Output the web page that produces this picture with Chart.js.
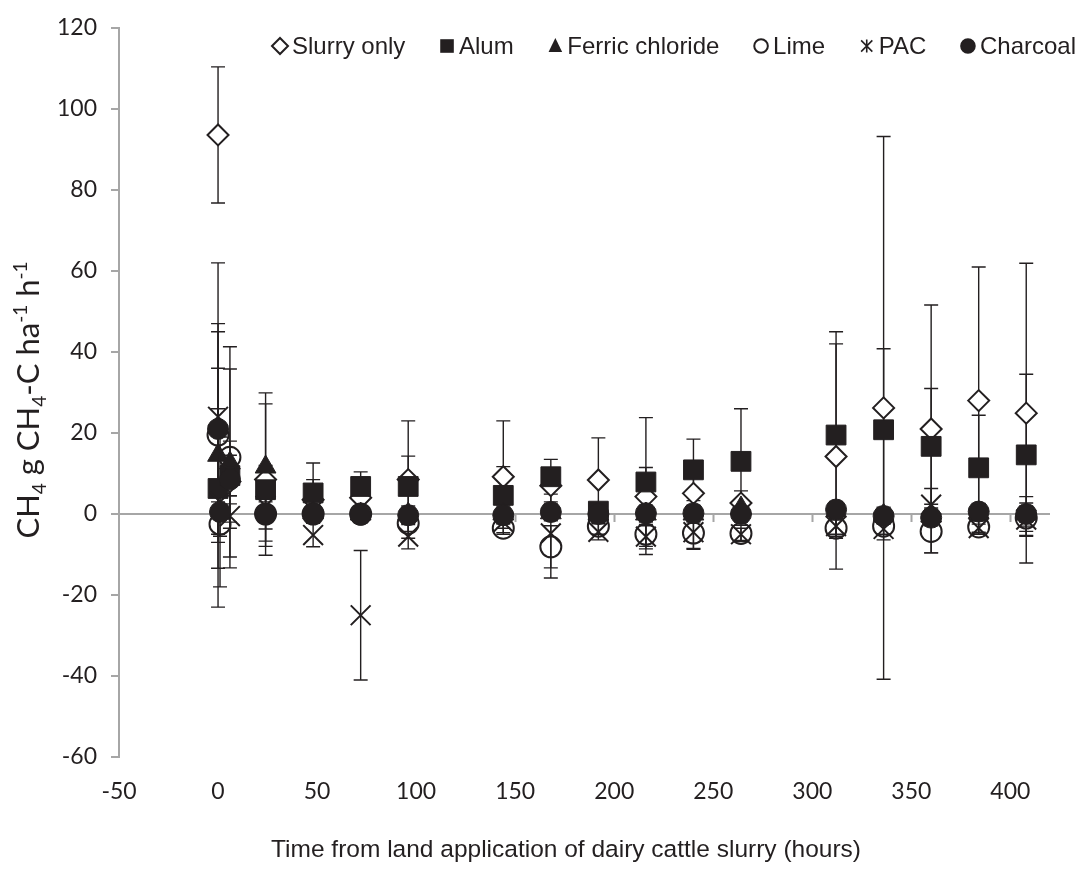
<!DOCTYPE html>
<html>
<head>
<meta charset="utf-8">
<title>CH4 flux after slurry application</title>
<script src="https://cdn.jsdelivr.net/npm/chart.js@4.4.1/dist/chart.umd.min.js"></script>
<style>
  html, body { margin: 0; padding: 0; background: #fff; }
</style>
</head>
<body>
<canvas id="chart" width="1078" height="886"></canvas>
<script>
// sampling times (hours after slurry application)
const hours = [0, 1, 6, 24, 48, 72, 96, 144, 168, 192, 216, 240, 264, 312, 336, 360, 384, 408];

// mean flux (g CH4-C ha-1 h-1) and +/- error, null = not measured
const slurryOnly    = [93.6, null, 8, 8.5, 3.5, 4, 8.5, 9.2, 7, 8.4, 4.3, 5.1, 2.7, 14.2, 26.2, 21, 28, 24.9];
const slurryOnlyErr = [16.8, null, 10, 18.7, 5, 3, 14.5, 13.8, 4, 10.4, 7.2, 4, 3, 27.8, 67, 30.6, 33, 37];
const alum          = [6.3, null, 9.5, 6, 5.2, 6.8, 6.8, 4.6, 9.2, 0.7, 7.9, 10.9, 13, 19.5, 20.8, 16.7, 11.4, 14.6];
const alumErr       = [19.7, null, 5, 3, 7.4, 3.6, 7.5, 7.1, 4.3, 2, 15.9, 7.6, 13, 25.5, 20, 14.3, 13, 19.9];
const ferric        = [14.5, null, 12.6, 11.6, 0.3, 0, 0, 0, 0.3, 0, 0, 0, 1.5, 0.8, -0.3, -0.5, 0.4, 0];
const ferricErr     = [21.5, null, 23.2, 18.3, 2, 2, 2, 2, 2, 2, 2, 2, 2, 2, 2, 2, 2, 2];
const lime          = [19.5, -2.5, 14, 0, 0, 0, -2.3, -3.5, -8.1, -3, -5, -4.7, -4.8, -3.5, -3, -4.3, -3.2, -1];
const limeErr       = [42.5, 3, 27.3, 2, 2, 2, 2, 1.5, 5.2, 2, 5, 4, 2, 2, 2, 5.3, 1.5, 2];
const pac           = [24, 3, -0.5, 2, -5.2, -25, -5.6, -2, -4.8, -4.4, -5.6, -4.5, -5, -3, -3.7, 2.3, -3.5, -1.4];
const pacErr        = [21, 3, 3, 10, 2.9, 16, 3, 1.5, 11, 2, 3, 4, 1.5, 2, 2.7, 4, 1, 4.1];
const charcoal      = [21, 0.5, 8.5, 0, 0.2, -0.2, -0.3, -0.3, 0.5, 0, 0.2, 0.2, 0, 1.1, -0.5, -0.9, 0.6, 0];
const charcoalErr   = [26, 18.5, 4, 3.7, 2, 2, 2, 2, 2, 2, 2, 2, 2, 2, 2, 2, 2, 4.3];

const yTicks = { min: -60, max: 120, step: 20 };
const xTicks = { min: -50, max: 420, step: 50 };

const ink = '#231f20';
const axisGrey = '#a6a6a6';

function toPoints(vals, errs) {
    const pts = [];
    hours.forEach((h, i) => {
        if (vals[i] !== null) pts.push({ x: h, y: vals[i], err: errs[i] });
    });
    return pts;
}

// zero line, tick marks on it, and error bars (under the markers)
const errorBars = {
    id: 'errorBars',
    beforeDatasetsDraw(chart) {
        const { ctx, chartArea, scales: { x, y } } = chart;
        ctx.save();
        const y0 = y.getPixelForValue(0);
        ctx.strokeStyle = axisGrey;
        ctx.lineWidth = 2;
        ctx.beginPath();
        ctx.moveTo(chartArea.left, y0);
        ctx.lineTo(chartArea.right, y0);
        for (let v = 0; v <= xTicks.max; v += xTicks.step) {
            const px = Math.round(x.getPixelForValue(v)) + 0.5;
            ctx.moveTo(px, y0);
            ctx.lineTo(px, y0 + 8);
        }
        ctx.stroke();

        ctx.strokeStyle = ink;
        ctx.lineWidth = 1.4;
        chart.data.datasets.forEach(ds => {
            ds.data.forEach(p => {
                if (!p.err) return;
                const px = x.getPixelForValue(p.x);
                const top = y.getPixelForValue(p.y + p.err);
                const bot = y.getPixelForValue(p.y - p.err);
                ctx.beginPath();
                ctx.moveTo(px, top); ctx.lineTo(px, bot);
                ctx.moveTo(px - 7, top); ctx.lineTo(px + 7, top);
                ctx.moveTo(px - 7, bot); ctx.lineTo(px + 7, bot);
                ctx.stroke();
            });
        });
        ctx.restore();
    }
};

function drawMarker(ctx, ds, cx, cy, s) {
    ctx.save();
    ctx.strokeStyle = ink;
    ctx.fillStyle = ds.backgroundColor;
    ctx.lineWidth = 2;
    ctx.beginPath();
    switch (ds.pointStyle) {
        case 'rectRot':
            ctx.moveTo(cx - s, cy); ctx.lineTo(cx, cy - s);
            ctx.lineTo(cx + s, cy); ctx.lineTo(cx, cy + s);
            ctx.closePath(); ctx.fill(); ctx.stroke();
            break;
        case 'rect':
            ctx.rect(cx - s * 0.85, cy - s * 0.85, s * 1.7, s * 1.7); ctx.fill();
            break;
        case 'triangle':
            ctx.moveTo(cx, cy - s); ctx.lineTo(cx + s * 0.85, cy + s * 0.75);
            ctx.lineTo(cx - s * 0.85, cy + s * 0.75); ctx.closePath(); ctx.fill();
            break;
        case 'circle':
            ctx.arc(cx, cy, s * 0.85, 0, Math.PI * 2);
            if (ds.backgroundColor !== 'transparent') ctx.fill();
            ctx.stroke();
            break;
        case 'crossRot':
            ctx.lineWidth = 1.6;
            ctx.moveTo(cx - s * 0.7, cy - s * 0.7); ctx.lineTo(cx + s * 0.7, cy + s * 0.7);
            ctx.moveTo(cx + s * 0.7, cy - s * 0.7); ctx.lineTo(cx - s * 0.7, cy + s * 0.7);
            ctx.moveTo(cx, cy - s * 0.8); ctx.lineTo(cx, cy + s * 0.8);
            ctx.stroke();
            break;
    }
    ctx.restore();
}

// legend inside the plot, axis titles with sub/superscripts
const decorations = {
    id: 'decorations',
    afterDraw(chart) {
        const { ctx } = chart;
        ctx.save();
        // legend
        ctx.font = '24px "Liberation Sans", Arial, sans-serif';
        ctx.textBaseline = 'middle';
        ctx.fillStyle = ink;
        const startX = 272, endX = 1076, ly = 46, mk = 8;
        let total = 0;
        chart.data.datasets.forEach(ds => { total += mk * 2 + 4 + ctx.measureText(ds.label).width; });
        const gap = (endX - startX - total) / (chart.data.datasets.length - 1);
        let lx = startX;
        chart.data.datasets.forEach(ds => {
            drawMarker(ctx, ds, lx + mk, ly, mk);
            lx += mk * 2 + 4;
            ctx.fillStyle = ink;
            ctx.textAlign = 'left';
            ctx.fillText(ds.label, lx, ly + 1);
            lx += ctx.measureText(ds.label).width + gap;
        });

        // x title
        ctx.font = '24.5px "Liberation Sans", Arial, sans-serif';
        ctx.textAlign = 'center';
        ctx.fillText('Time from land application of dairy cattle slurry (hours)', 566, 850);

        // y title, rotated
        const parts = [
            ['CH', 0], ['4', 1], [' g CH', 0], ['4', 1], ['-C ha', 0], ['-1', -1], [' h', 0], ['-1', -1]
        ];
        const big = '31px Lato, sans-serif', small = '19px Lato, sans-serif';
        let w = 0;
        parts.forEach(([t, k]) => { ctx.font = k ? small : big; w += ctx.measureText(t).width; });
        ctx.translate(28, 400);
        ctx.rotate(-Math.PI / 2);
        ctx.textAlign = 'left';
        ctx.textBaseline = 'alphabetic';
        let tx = -w / 2;
        parts.forEach(([t, k]) => {
            ctx.font = k ? small : big;
            const dy = k === 1 ? 7 : (k === -1 ? -12 : 0);
            ctx.fillText(t, tx, 11 + dy);
            tx += ctx.measureText(t).width;
        });
        ctx.restore();
    }
};

new Chart(document.getElementById('chart'), {
    type: 'scatter',
    data: {
        datasets: [
            { label: 'Slurry only', data: toPoints(slurryOnly, slurryOnlyErr), pointStyle: 'rectRot', pointRadius: 10.5,
              backgroundColor: '#ffffff', borderColor: ink, borderWidth: 2, order: 6 },
            { label: 'Alum', data: toPoints(alum, alumErr), pointStyle: 'rect', pointRadius: 14,
              backgroundColor: ink, borderColor: ink, borderWidth: 1, order: 5 },
            { label: 'Ferric chloride', data: toPoints(ferric, ferricErr), pointStyle: 'triangle', pointRadius: 12,
              backgroundColor: ink, borderColor: ink, borderWidth: 1, order: 4 },
            { label: 'Lime', data: toPoints(lime, limeErr), pointStyle: 'circle', pointRadius: 10.5,
              backgroundColor: 'transparent', borderColor: ink, borderWidth: 2, order: 3 },
            { label: 'PAC', data: toPoints(pac, pacErr), pointStyle: 'crossRot', pointRadius: 14,
              backgroundColor: ink, borderColor: ink, borderWidth: 2, order: 2 },
            { label: 'Charcoal', data: toPoints(charcoal, charcoalErr), pointStyle: 'circle', pointRadius: 10.5,
              backgroundColor: ink, borderColor: ink, borderWidth: 1, order: 1 }
        ]
    },
    options: {
        responsive: false,
        animation: false,
        layout: { padding: { top: 28, right: 28, bottom: 0, left: 0 } },
        scales: {
            x: {
                type: 'linear',
                min: xTicks.min,
                max: xTicks.max,
                bounds: 'data',
                afterBuildTicks(scale) {
                    scale.ticks = scale.ticks.filter(t => t.value % xTicks.step === 0);
                },
                ticks: {
                    stepSize: xTicks.step,
                    includeBounds: false,
                    autoSkip: false,
                    color: ink,
                    font: { family: 'Lato', size: 23 },
                    padding: 21,
                    maxRotation: 0
                },
                grid: { display: false, drawTicks: false, tickLength: 0 },
                border: { display: false },
                afterFit(scale) { scale.height = 129; }
            },
            y: {
                min: yTicks.min,
                max: yTicks.max,
                ticks: {
                    stepSize: yTicks.step,
                    color: ink,
                    font: { family: 'Lato', size: 23 },
                    padding: 14
                },
                grid: { drawOnChartArea: false, drawTicks: true, tickLength: 8, color: axisGrey, lineWidth: 2 },
                border: { display: true, color: axisGrey, width: 2 },
                afterFit(scale) { scale.width = 119; }
            }
        },
        plugins: {
            legend: { display: false },
            tooltip: { enabled: false }
        }
    },
    plugins: [errorBars, decorations]
});
</script>
</body>
</html>
